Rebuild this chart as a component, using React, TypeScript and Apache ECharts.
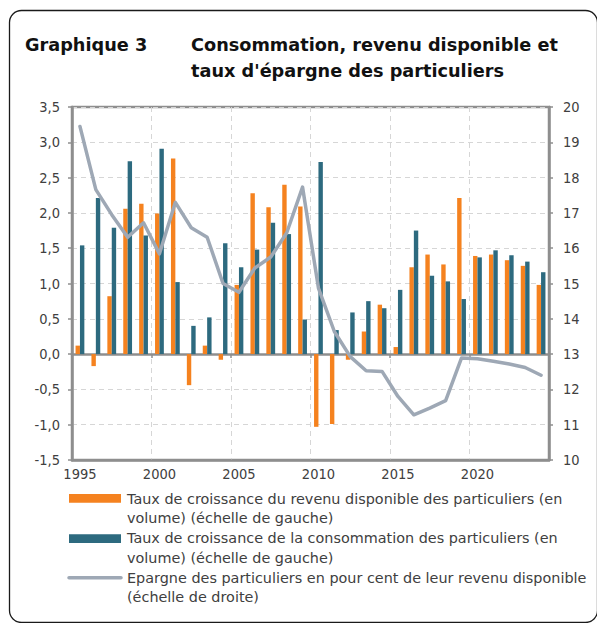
import React, { useEffect, useRef } from "react";
import * as echarts from "echarts";

const years = [
  "1995", "1996", "1997", "1998", "1999", "2000", "2001", "2002", "2003", "2004",
  "2005", "2006", "2007", "2008", "2009", "2010", "2011", "2012", "2013", "2014",
  "2015", "2016", "2017", "2018", "2019", "2020", "2021", "2022", "2023", "2024",
];
const revenu = [
  0.12, -0.17, 0.82, 2.06, 2.13, 1.99, 2.77, -0.44, 0.12, -0.08,
  0.98, 2.28, 2.08, 2.4, 2.09, -1.03, -0.99, -0.08, 0.32, 0.7,
  0.1, 1.23, 1.41, 1.27, 2.21, 1.39, 1.41, 1.33, 1.25, 0.98,
];
const consommation = [
  1.54, 2.21, 1.79, 2.73, 1.68, 2.91, 1.02, 0.4, 0.52, 1.57,
  1.23, 1.48, 1.86, 1.7, 0.49, 2.72, 0.34, 0.59, 0.75, 0.65,
  0.91, 1.75, 1.11, 1.03, 0.78, 1.37, 1.47, 1.4, 1.31, 1.16,
];
const epargne = [
  19.45, 17.66, 16.95, 16.31, 16.72, 15.84, 17.3, 16.58, 16.31, 15.0,
  14.75, 15.44, 15.75, 16.43, 17.73, 14.87, 13.64, 12.93, 12.53, 12.51,
  11.8, 11.28, 11.47, 11.68, 12.89, 12.87, 12.8, 12.72, 12.62, 12.4,
];

const titleLeft = "Graphique 3";
const titleLines = ["Consommation, revenu disponible et", "taux d'épargne des particuliers"];
const legendLines = [
  ["Taux de croissance du revenu disponible des particuliers (en", "volume) (échelle de gauche)"],
  ["Taux de croissance de la consommation des particuliers (en", "volume) (échelle de gauche)"],
  ["Epargne des particuliers en pour cent de leur revenu disponible", "(échelle de droite)"],
];

const FONT = "'DejaVu Sans Condensed', 'DejaVu Sans', sans-serif";
const WIDE = "'DejaVu Sans', sans-serif";
const ORANGE = "#f5821f";
const BLUE = "#2d6a7f";
const LINEC = "#9ea8b5";
const AXIS = "#8e8e8e";
const GRIDC = "#d6d6d6";
const TXT = "#404040";

export default function App() {
  const ref = useRef<HTMLDivElement>(null);
  useEffect(() => {
    if (!ref.current) return;
    const chart = echarts.init(ref.current, undefined, { renderer: "svg" });
    const every5 = (i: number) => i % 5 === 0;
    const legendGraphics: any[] = [];
    const rowY = [499, 518, 538, 557.5, 577.5, 597];
    legendLines.forEach((pair, k) => {
      pair.forEach((t, j) => {
        legendGraphics.push({
          type: "text",
          x: 127,
          y: rowY[k * 2 + j],
          style: {
            text: t,
            fill: TXT,
            font: `14.4px ${WIDE}`,
            textVerticalAlign: "middle",
          },
        });
      });
    });
    chart.setOption({
      animation: false,
      textStyle: { fontFamily: FONT },
      grid: {
        left: 72,
        right: 48,
        top: 107,
        bottom: 163,
        show: true,
        borderColor: AXIS,
        borderWidth: 2.5,
        containLabel: false,
      },
      xAxis: [
        {
          type: "category",
          data: years,
          boundaryGap: true,
          position: "bottom",
          axisLine: { onZero: false, show: true, lineStyle: { color: AXIS, width: 2.5 } },
          axisTick: { show: false },
          axisLabel: {
            interval: 4,
            margin: 6,
            color: TXT,
            fontSize: 14.5,
            fontFamily: FONT,
          },
          splitLine: {
            show: true,
            interval: (i: number) => i % 5 === 0 && i > 0,
            lineStyle: { color: GRIDC, type: [5, 4], width: 1 },
          },
        },
        {
          type: "category",
          data: years,
          boundaryGap: true,
          position: "bottom",
          axisLine: { onZero: true, onZeroAxisIndex: 0, show: true, lineStyle: { color: AXIS, width: 2.5 } },
          axisTick: { show: true, interval: every5, length: 4, lineStyle: { color: AXIS, width: 1.5 } },
          axisLabel: { show: false },
          splitLine: { show: false },
        },
      ],
      yAxis: [
        {
          type: "value",
          min: -1.5,
          max: 3.5,
          interval: 0.5,
          position: "left",
          axisLine: { show: true, lineStyle: { color: AXIS, width: 2.5 } },
          axisTick: { show: true, length: 4, lineStyle: { color: AXIS, width: 1.5 } },
          axisLabel: {
            color: TXT,
            fontSize: 14.5,
            fontFamily: FONT,
            margin: 12,
            formatter: (v: number) => v.toFixed(1).replace(".", ","),
          },
          splitLine: { show: true, lineStyle: { color: GRIDC, type: [5, 4], width: 1 } },
        },
        {
          type: "value",
          min: 10,
          max: 20,
          interval: 1,
          position: "right",
          axisLine: { show: true, lineStyle: { color: AXIS, width: 2.5 } },
          axisTick: { show: true, length: 4, lineStyle: { color: AXIS, width: 1.5 } },
          axisLabel: { color: TXT, fontSize: 14.5, fontFamily: FONT, margin: 14 },
          splitLine: { show: false },
        },
      ],
      series: [
        {
          name: "revenu",
          type: "bar",
          xAxisIndex: 0,
          yAxisIndex: 0,
          data: revenu,
          barWidth: 4.4,
          barGap: "0%",
          itemStyle: { color: ORANGE },
        },
        {
          name: "consommation",
          type: "bar",
          xAxisIndex: 0,
          yAxisIndex: 0,
          data: consommation,
          barWidth: 4.4,
          barGap: "0%",
          itemStyle: { color: BLUE },
        },
        {
          name: "epargne",
          type: "line",
          xAxisIndex: 0,
          yAxisIndex: 1,
          data: epargne,
          symbol: "none",
          z: 5,
          lineStyle: { color: LINEC, width: 3.5, cap: "round", join: "round" },
        },
      ],
      graphic: [
        {
          type: "rect",
          shape: { x: 9.5, y: 10.5, width: 588, height: 612, r: 12 },
          style: { fill: "none", stroke: "#1a1a1a", lineWidth: 1.3 },
          silent: true,
        },
        {
          type: "text",
          x: 25,
          y: 44.5,
          style: { text: titleLeft, fill: "#111", font: `bold 17.7px ${WIDE}`, textVerticalAlign: "middle" },
        },
        {
          type: "text",
          x: 191,
          y: 44.5,
          style: { text: titleLines[0], fill: "#111", font: `bold 17.7px ${WIDE}`, textVerticalAlign: "middle" },
        },
        {
          type: "text",
          x: 191,
          y: 70.5,
          style: { text: titleLines[1], fill: "#111", font: `bold 17.7px ${WIDE}`, textVerticalAlign: "middle" },
        },
        { type: "rect", shape: { x: 69, y: 494, width: 52, height: 8.7 }, style: { fill: ORANGE } },
        { type: "rect", shape: { x: 69, y: 534.3, width: 52, height: 8.7 }, style: { fill: BLUE } },
        {
          type: "line",
          shape: { x1: 69, y1: 577.7, x2: 121, y2: 577.7 },
          style: { stroke: LINEC, lineWidth: 3.5, lineCap: "round" },
        },
        ...legendGraphics,
      ],
    });
    return () => chart.dispose();
  }, []);
  return (
    <div
      ref={ref}
      style={{ position: "fixed", left: 0, top: 0, width: 597, height: 623, background: "#fff" }}
    />
  );
}
